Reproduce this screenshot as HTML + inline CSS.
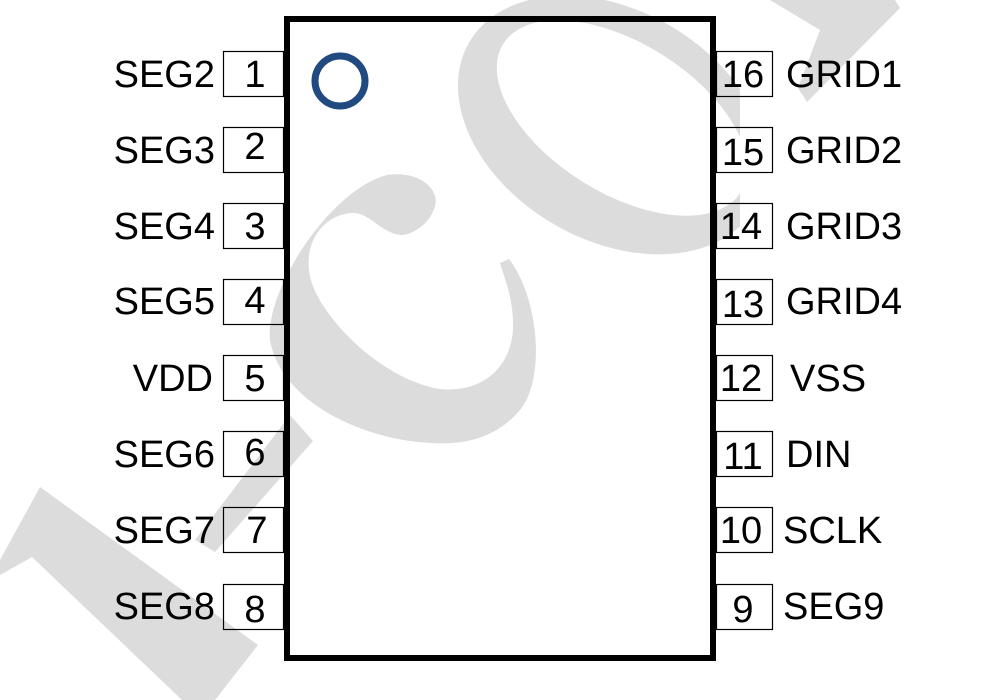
<!DOCTYPE html>
<html><head><style>
html,body{margin:0;padding:0;background:#fff;}
svg{display:block;}
text{font-family:"Liberation Sans",sans-serif;font-size:38px;fill:#000;}
</style></head><body>
<svg width="997" height="700" viewBox="0 0 997 700" xmlns="http://www.w3.org/2000/svg">
<defs>
<mask id="om" maskUnits="userSpaceOnUse" x="0" y="0" width="997" height="700">
  <rect x="0" y="0" width="997" height="700" fill="#000"/>
  <ellipse cx="612" cy="125" rx="165" ry="115" transform="rotate(30 612 125)" fill="#fff"/>
  <ellipse cx="622" cy="118" rx="140" ry="75" transform="rotate(32 622 118)" fill="#000"/>
  <rect x="740" y="0" width="257" height="700" fill="#000"/>
</mask>
</defs>
<g fill="#dcdcdc" stroke="none">
  <polygon points="40,487 258,645 215,700 182,700 32,557 0,575 0,560"/>
  <polygon points="195,540 215,552 313,441 290,415"/>
  <path d="M 509 259 C 540 300 545 380 520 410 C 495 440 460 445 432 443 C 360 440 280 400 270 340 C 265 290 330 190 387 175 C 420 170 440 190 435 206 C 430 225 410 236 400 235 C 380 232 370 213 353 213 C 330 213 305 235 309 270 C 312 310 380 380 440 389 C 480 393 510 370 513 330 C 514 300 505 280 500 263 Z"/>
  <rect x="0" y="0" width="997" height="700" mask="url(#om)"/>
  <polygon points="770,0 895,0 900,8 807,102 798,88 820,30"/>
</g>
<rect x="287" y="19" width="426" height="639" fill="none" stroke="#000" stroke-width="6"/>
<circle cx="340" cy="81" r="25" fill="none" stroke="#214a80" stroke-width="7"/>
<g fill="none" stroke="#000" stroke-width="1.2">
  <rect x="223.5" y="51.5" width="60" height="45"/>
  <rect x="223.5" y="127.5" width="60" height="45"/>
  <rect x="223.5" y="203.5" width="60" height="45"/>
  <rect x="223.5" y="279.5" width="60" height="45"/>
  <rect x="223.5" y="355.5" width="60" height="45"/>
  <rect x="223.5" y="431.5" width="60" height="45"/>
  <rect x="223.5" y="507.5" width="60" height="45"/>
  <rect x="223.5" y="584.5" width="60" height="45"/>
  <rect x="716.5" y="51.5" width="56" height="45"/>
  <rect x="716.5" y="127.5" width="56" height="45"/>
  <rect x="716.5" y="203.5" width="56" height="45"/>
  <rect x="716.5" y="279.5" width="56" height="45"/>
  <rect x="716.5" y="355.5" width="56" height="45"/>
  <rect x="716.5" y="431.5" width="56" height="45"/>
  <rect x="716.5" y="507.5" width="56" height="45"/>
  <rect x="716.5" y="584.5" width="56" height="45"/>
</g>
<g text-anchor="end">
  <text x="215" y="87">SEG2</text>
  <text x="215" y="163">SEG3</text>
  <text x="215" y="239">SEG4</text>
  <text x="215" y="314">SEG5</text>
  <text x="213" y="391">VDD</text>
  <text x="215" y="467">SEG6</text>
  <text x="215" y="543">SEG7</text>
  <text x="215" y="619">SEG8</text>
</g>
<g text-anchor="middle">
  <text x="255" y="87">1</text>
  <text x="255" y="159">2</text>
  <text x="255" y="239">3</text>
  <text x="255" y="313">4</text>
  <text x="255" y="391">5</text>
  <text x="255" y="465">6</text>
  <text x="257" y="543">7</text>
  <text x="255" y="622">8</text>
  <text x="743" y="87">16</text>
  <text x="743" y="165">15</text>
  <text x="741" y="239">14</text>
  <text x="743" y="317">13</text>
  <text x="741" y="391">12</text>
  <text x="743" y="469">11</text>
  <text x="741" y="543">10</text>
  <text x="743" y="622">9</text>
</g>
<g>
  <text x="786" y="87">GRID1</text>
  <text x="786" y="163">GRID2</text>
  <text x="786" y="239">GRID3</text>
  <text x="786" y="314">GRID4</text>
  <text x="790" y="391">VSS</text>
  <text x="786" y="467">DIN</text>
  <text x="783" y="543">SCLK</text>
  <text x="783" y="619">SEG9</text>
</g>
</svg>
</body></html>
